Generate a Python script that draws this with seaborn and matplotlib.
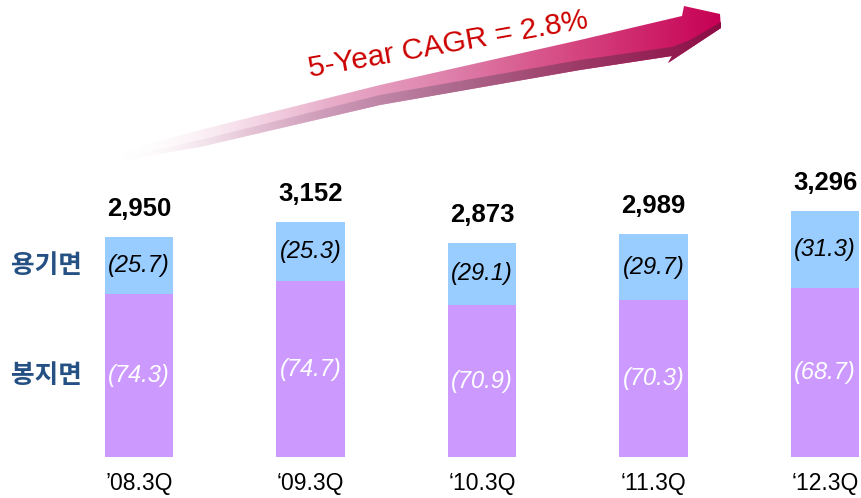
import numpy as np
import pandas as pd
import matplotlib
matplotlib.use("Agg")
import matplotlib.pyplot as plt
import seaborn as sns
from matplotlib.patches import Polygon

# ---------------- data ----------------
categories = ["’08.3Q", "‘09.3Q", "‘10.3Q", "‘11.3Q", "‘12.3Q"]
totals = [2950, 3152, 2873, 2989, 3296]
pouch_pct = [74.3, 74.7, 70.9, 70.3, 68.7]   # 봉지면
cup_pct = [25.7, 25.3, 29.1, 29.7, 31.3]     # 용기면
series_names = ["용기면", "봉지면"]
cagr_text = "5-Year CAGR = 2.8%"

# ---------------- style ----------------
sns.set_theme(style="white")
plt.rcParams["font.family"] = ["Liberation Sans", "Noto Sans CJK KR", "DejaVu Sans"]

W, H = 862, 498
fig = plt.figure(figsize=(W / 100, H / 100), dpi=100)
fig.patch.set_facecolor("white")

# background overlay axes in pixel coordinates (for the decorative arrow)
ax_bg = fig.add_axes([0, 0, 1, 1], zorder=0)
ax_bg.set_xlim(0, W)
ax_bg.set_ylim(H, 0)
ax_bg.axis("off")

# main data axes
base_px = 457
ax = fig.add_axes([0, (H - base_px) / H, 1, base_px / H], zorder=1)
ax.patch.set_alpha(0)

df = pd.DataFrame({
    "quarter": categories,
    "total": totals,
    "pouch": [t * p / 100 for t, p in zip(totals, pouch_pct)],
})

bar_w = 0.397
sns.barplot(data=df, x="quarter", y="total", color="#99CCFF", saturation=1,
            width=bar_w, linewidth=0, ax=ax, errorbar=None)
sns.barplot(data=df, x="quarter", y="pouch", color="#CC99FF", saturation=1,
            width=bar_w, linewidth=0, ax=ax, errorbar=None)

px_per_cat = 171.5
x0_px = 139
ax.set_xlim(-x0_px / px_per_cat, (W - x0_px) / px_per_cat)
ax.set_ylim(0, base_px / (220 / 2950))
ax.set_yticks([])
ax.set_xlabel("")
ax.set_ylabel("")
ax.tick_params(axis="x", length=0, pad=11, labelsize=16.5, colors="black")
sns.despine(ax=ax, left=True, bottom=True)

for i, (t, pp, cp, pv) in enumerate(zip(totals, pouch_pct, cup_pct, df["pouch"])):
    ax.annotate(f"{t:,}", (i, t), xytext=(0, 15), textcoords="offset points",
                ha="center", va="baseline", fontsize=18.5, fontweight="bold",
                color="black")
    ax.text(i, pv / 2, f"({pp})", ha="center", va="center", style="italic",
            fontsize=17, color="white")
    ax.text(i, pv + (t - pv) / 2, f"({cp})", ha="center", va="center",
            style="italic", fontsize=17, color="black")

# series labels on the left
lab_x = (46 - x0_px) / px_per_cat
p0 = df["pouch"][0]
ax.text(lab_x, p0 + (totals[0] - p0) / 2, series_names[0], ha="center", va="center",
        fontsize=18.5, fontweight="bold", color="#245083",
        family=["Noto Sans CJK KR", "DejaVu Sans"])
ax.text(lab_x, p0 / 2, series_names[1], ha="center", va="center",
        fontsize=18.5, fontweight="bold", color="#245083",
        family=["Noto Sans CJK KR", "DejaVu Sans"])

# ---------------- decorative gradient arrow ----------------
top_edge = [(125, 150), (200, 130), (380, 85), (580, 40), (682, 16)]
head = [(684, 6), (720, 14), (721, 28), (668, 63)]
bot_edge = [(672, 56), (580, 70), (380, 105), (200, 147), (125, 160)]
arrow_pts = top_edge + head + bot_edge

lower_pts = [(125, 157), (200, 140), (380, 95), (580, 60), (672, 47),
             (690, 40), (721, 22), (721, 28), (668, 63), (672, 56),
             (580, 70), (380, 105), (200, 147), (125, 160)]

xs = np.arange(100, 730)
ext = (100, 730, 175, 0)


def grad_image(kx, kr, kg, kb, ka):
    img = np.zeros((175, len(xs), 4))
    for c, k in enumerate([kr, kg, kb, ka]):
        img[..., c] = np.interp(xs, kx, k)
    return img


kx = [120, 250, 330, 450, 560, 720]
top_img = grad_image(kx,
                     [1.00, 0.94, 0.91, 0.87, 0.84, 0.78],
                     [1.00, 0.78, 0.68, 0.50, 0.30, 0.00],
                     [1.00, 0.86, 0.79, 0.67, 0.52, 0.33],
                     [0.00, 0.70, 1.00, 1.00, 1.00, 1.00])
low_img = grad_image(kx,
                     [1.00, 0.86, 0.80, 0.68, 0.62, 0.55],
                     [1.00, 0.72, 0.60, 0.42, 0.25, 0.05],
                     [1.00, 0.80, 0.72, 0.56, 0.42, 0.27],
                     [0.00, 0.60, 1.00, 1.00, 1.00, 1.00])

poly = Polygon(arrow_pts, closed=True, facecolor="none", edgecolor="none")
ax_bg.add_patch(poly)
im = ax_bg.imshow(top_img, extent=ext, origin="upper", aspect="auto",
                  interpolation="bilinear")
im.set_clip_path(poly)

poly2 = Polygon(lower_pts, closed=True, facecolor="none", edgecolor="none")
ax_bg.add_patch(poly2)
im2 = ax_bg.imshow(low_img, extent=ext, origin="upper", aspect="auto",
                   interpolation="bilinear")
im2.set_clip_path(poly2)
ax_bg.set_xlim(0, W)
ax_bg.set_ylim(H, 0)

ax_bg.text(448, 45, cagr_text, rotation=10, rotation_mode="anchor",
           ha="center", va="center", color="#CC0000", fontsize=21.5)

fig.savefig("out.png", dpi=100)
